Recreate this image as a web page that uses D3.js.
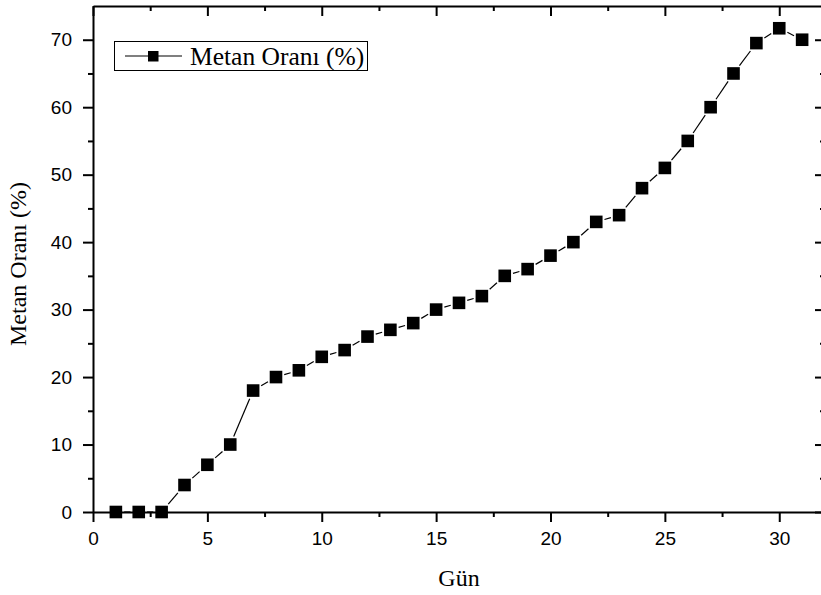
<!DOCTYPE html>
<html><head><meta charset="utf-8">
<script src="https://cdn.jsdelivr.net/npm/d3@7"></script>
<style>
body{margin:0;background:#fff}
svg{display:block}
.tick text{font-family:"Liberation Sans",Arial,sans-serif;font-size:19px;fill:#000}
</style>
</head><body>
<svg id="c" width="821" height="595"></svg>
<script>
// ---- data ----
const days = [1,2,3,4,5,6,7,8,9,10,11,12,13,14,15,16,17,18,19,20,21,22,23,24,25,26,27,28,29,30,31];
const metan = [0,0,0,4,7,10,18,20,21,23,24,26,27,28,30,31,32,35,36,38,40,43,44,48,51,55,60,65,69.5,71.7,70];
const xTicks = [0,5,10,15,20,25,30];
const xMinorTicks = [2.5,7.5,12.5,17.5,22.5,27.5];
const yTicks = [0,10,20,30,40,50,60,70];
const yMinorTicks = [5,15,25,35,45,55,65];
const seriesName = "Metan Oranı (%)";
const xTitle = "Gün";
const yTitle = "Metan Oranı (%)";

// ---- layout ----
const svg = d3.select("#c");
const x = d3.scaleLinear().domain([0,32]).range([93,825]);
const y = d3.scaleLinear().domain([0,75]).range([512,6]);
const serif = '"Liberation Serif","Times New Roman",serif';

function styleAxis(g){
  g.select(".domain").attr("stroke","#000").attr("stroke-width",2);
  g.selectAll(".tick line").attr("stroke","#000").attr("stroke-width",2);
}

// bottom
svg.append("g").attr("transform",`translate(0,${y(0)})`)
  .call(d3.axisBottom(x).tickValues(xTicks).tickSize(10).tickSizeOuter(0).tickPadding(10))
  .call(styleAxis);
svg.append("g").attr("transform",`translate(0,${y(0)})`)
  .call(d3.axisBottom(x).tickValues(xMinorTicks).tickSize(5).tickSizeOuter(0).tickFormat(""))
  .call(g=>g.select(".domain").remove()).call(styleAxis);
// top
svg.append("g").attr("transform",`translate(0,${y(75)})`)
  .call(d3.axisTop(x).tickValues(xTicks).tickSize(-10).tickSizeOuter(0).tickFormat(""))
  .call(styleAxis);
svg.append("g").attr("transform",`translate(0,${y(75)})`)
  .call(d3.axisTop(x).tickValues(xMinorTicks).tickSize(-5).tickSizeOuter(0).tickFormat(""))
  .call(g=>g.select(".domain").remove()).call(styleAxis);
// left
svg.append("g").attr("transform",`translate(${x(0)},0)`)
  .call(d3.axisLeft(y).tickValues(yTicks).tickSize(10).tickSizeOuter(0).tickPadding(11))
  .call(styleAxis);
svg.append("g").attr("transform",`translate(${x(0)},0)`)
  .call(d3.axisLeft(y).tickValues(yMinorTicks).tickSize(5).tickSizeOuter(0).tickFormat(""))
  .call(g=>g.select(".domain").remove()).call(styleAxis);
// right
svg.append("g").attr("transform",`translate(${x(32)},0)`)
  .call(d3.axisRight(y).tickValues(yTicks).tickSize(-10).tickSizeOuter(0).tickFormat(""))
  .call(styleAxis);
svg.append("g").attr("transform",`translate(${x(32)},0)`)
  .call(d3.axisRight(y).tickValues(yMinorTicks).tickSize(-5).tickSizeOuter(0).tickFormat(""))
  .call(g=>g.select(".domain").remove()).call(styleAxis);

// ---- series ----
const pts = days.map((d,i)=>[x(d), y(metan[i])]);
const half = 6.3, gap = 2;
const segs = [];
for(let i=0;i<pts.length-1;i++){
  const [x1,y1]=pts[i],[x2,y2]=pts[i+1];
  const dx=x2-x1, dy=y2-y1, L=Math.hypot(dx,dy);
  const ux=dx/L, uy=dy/L;
  const t = half/Math.max(Math.abs(ux),Math.abs(uy)) + gap;
  if(L>2*t) segs.push([x1+ux*t,y1+uy*t,x2-ux*t,y2-uy*t]);
}
svg.append("g").selectAll("line").data(segs).join("line")
  .attr("x1",d=>d[0]).attr("y1",d=>d[1]).attr("x2",d=>d[2]).attr("y2",d=>d[3])
  .attr("stroke","#000").attr("stroke-width",1.2);
svg.append("g").selectAll("rect").data(pts).join("rect")
  .attr("x",d=>d[0]-half).attr("y",d=>d[1]-half)
  .attr("width",half*2).attr("height",half*2).attr("fill","#000");

// ---- titles ----
svg.append("text").attr("x",(x(0)+x(32))/2).attr("y",586)
  .attr("text-anchor","middle").attr("font-family",serif).attr("font-size",24).text(xTitle);
svg.append("text").attr("transform",`translate(26,${(y(0)+y(75))/2 + 5}) rotate(-90)`)
  .attr("text-anchor","middle").attr("font-family",serif).attr("font-size",24).text(yTitle);

// ---- legend ----
const lg = svg.append("g");
lg.append("rect").attr("x",114.5).attr("y",41.5).attr("width",253).attr("height",29)
  .attr("fill","#fff").attr("stroke","#000").attr("stroke-width",1);
lg.append("line").attr("x1",125).attr("x2",182).attr("y1",56).attr("y2",56)
  .attr("stroke","#000").attr("stroke-width",1.2);
lg.append("rect").attr("x",148).attr("y",51).attr("width",10.5).attr("height",10.5).attr("fill","#000");
lg.append("text").attr("x",190).attr("y",65).attr("font-family",serif).attr("font-size",25.5).text(seriesName);
</script>
</body></html>
